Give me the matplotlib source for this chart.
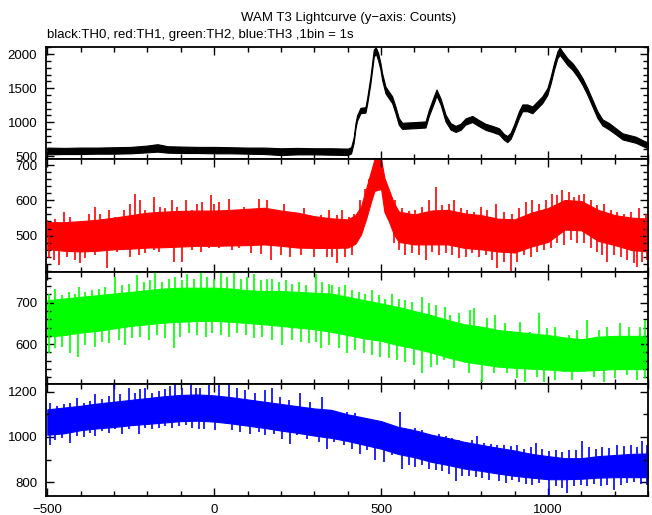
import numpy as np
import matplotlib
matplotlib.use("Agg")
import matplotlib.pyplot as plt
from matplotlib.ticker import MultipleLocator

plt.rcParams['font.family'] = ['Liberation Sans', 'DejaVu Sans']

# ---- values ----
# TH0 (black): band low/high edges
th0_t = [-500, -450, -400, -350, -300, -250, -200, -170, -140, -100, -50, 0, 50, 100, 150,
         200, 250, 300, 350, 400, 410, 418, 423, 428, 438, 453, 458, 468, 478, 484, 491,
         498, 503, 513, 523, 533, 543, 553, 563, 600, 633, 643, 658, 666, 678, 693, 708,
         723, 738, 753, 773, 793, 813, 833, 853, 868, 878, 888, 898, 913, 923, 938, 953,
         968, 983, 998, 1008, 1018, 1028, 1035, 1043, 1058, 1073, 1088, 1103, 1118, 1133,
         1148, 1163, 1183, 1203, 1223, 1243, 1263, 1283, 1300]
th0_lo = [525, 530, 530, 535, 535, 540, 555, 565, 550, 545, 545, 540, 540, 535, 530,
          515, 525, 525, 520, 515, 540, 700, 900, 1020, 1130, 1140, 1260, 1570, 1960, 2010, 1910,
          1770, 1620, 1425, 1350, 1280, 1130, 960, 900, 910, 920, 1090, 1280, 1390, 1260, 1010, 890,
          855, 885, 965, 1000, 940, 885, 855, 820, 740, 705, 755, 870, 1060, 1160, 1160, 1130,
          1205, 1280, 1400, 1570, 1770, 1940, 1990, 1940, 1840, 1770, 1670, 1550, 1400, 1230,
          1060, 950, 890, 820, 745, 720, 695, 650, 610]
th0_hi = [625, 620, 625, 625, 630, 635, 655, 675, 645, 640, 635, 635, 630, 625, 625,
          615, 620, 615, 615, 610, 630, 780, 980, 1100, 1210, 1220, 1350, 1670, 2070, 2100, 2020,
          1870, 1720, 1525, 1450, 1380, 1230, 1060, 990, 1000, 1010, 1180, 1380, 1480, 1350, 1110, 985,
          945, 975, 1055, 1090, 1030, 975, 945, 910, 825, 795, 845, 960, 1160, 1260, 1260, 1230,
          1305, 1380, 1500, 1670, 1870, 2040, 2100, 2040, 1940, 1870, 1770, 1650, 1500, 1330,
          1160, 1040, 985, 910, 835, 810, 785, 735, 695]

# TH1 (red): dense band + spike tips
th1_t = [-500, -450, -400, -350, -300, -250, -200, -150, -100, -50, 0, 50, 100, 150, 200,
         250, 300, 350, 400, 423, 440, 455, 470, 480, 500, 510, 523, 538, 553, 600, 650,
         700, 750, 800, 850, 900, 950, 1000, 1050, 1100, 1150, 1200, 1250, 1300]
th1_lo = [462, 457, 455, 457, 461, 463, 466, 467, 469, 471, 471, 472, 473, 475, 471,
          466, 465, 465, 466, 477, 504, 547, 597, 627, 632, 567, 541, 504, 482, 475, 475,
          475, 465, 461, 455, 452, 469, 482, 517, 515, 485, 473, 459, 455]
th1_hi = [538, 538, 541, 545, 551, 558, 565, 568, 570, 571, 571, 573, 576, 579, 571,
          565, 555, 549, 546, 558, 583, 633, 683, 716, 716, 663, 631, 593, 568, 560, 571,
          573, 563, 558, 548, 546, 565, 578, 601, 598, 573, 558, 551, 548]
th1_spike_t = [-501, -476, -451, -431, -406, -376, -356, -341, -316, -296, -271, -251, -236, -221,
               -206, -181, -161, -146, -126, -111, -86, -66, -51, -36, -11, -1, 14, 44, 69, 89,
               134, 159, 209, 269, 319, 343, 368, 383, 403, 418, 438, 453, 463, 513, 528, 543,
               563, 583, 603, 623, 643, 663, 683, 703, 718, 738, 758, 778, 798, 818, 843, 868,
               893, 913, 933, 953, 973, 993, 1013, 1028, 1043, 1063, 1078, 1093, 1108, 1128,
               1148, 1168, 1188, 1208, 1228, 1248, 1273, 1293,
               -496, -481, -466, -441, -416, -401, -386, -356, -321, -291, -251, -226, -206,
               -181, -166, -121, -96, -66, -41, -16, 14, 54, 74, 109, 139, 169, 199, 227, 259,
               299, 338, 353, 368, 393, 413, 538, 553, 573, 593, 613, 633, 653, 673, 693, 713,
               733, 753, 773, 793, 813, 833, 848, 868, 888, 908, 928, 948, 968, 988, 1008,
               1028, 1048, 1068, 1088, 1108, 1128, 1148, 1163, 1178, 1198, 1218, 1238, 1258,
               1268, 1283, 1298]
th1_spike_v = [544, 548, 567, 553, 539, 562, 581, 562, 572, 553, 572, 591, 619, 600,
               572, 609, 581, 577, 600, 581, 600, 572, 591, 595, 614, 591, 595, 604, 572, 581,
               605, 600, 590, 577, 558, 572, 558, 572, 553, 562, 600, 633, 660, 660, 620, 600,
               577, 570, 572, 581, 600, 638, 586, 591, 600, 577, 572, 567, 581, 572, 591, 567,
               562, 577, 595, 600, 591, 600, 619, 614, 628, 624, 609, 614, 619, 600,
               586, 591, 572, 567, 562, 567, 577, 562,
               435, 431, 417, 440, 431, 421, 435, 445, 407, 454, 440, 445, 450,
               459, 454, 426, 426, 459, 454, 464, 464, 459, 464, 452, 448, 431, 446, 440, 445,
               440, 440, 440, 421, 440, 445, 480, 459, 445, 450, 445, 431, 454, 445, 450, 445,
               436, 440, 450, 440, 445, 431, 407, 426, 398, 426, 445, 440, 454, 459, 464,
               478, 473, 487, 478, 478, 464, 454, 445, 426, 445, 440, 431, 421,
               412, 426, 431]

# TH2 (green)
th2_t = [-500, -450, -400, -350, -300, -250, -200, -150, -100, -50, 0, 50, 100, 150, 200,
         250, 300, 350, 400, 450, 500, 550, 600, 650, 700, 750, 800, 850, 900, 950, 1000,
         1050, 1100, 1150, 1200, 1250, 1300]
th2_lo = [618, 622, 628, 632, 638, 644, 648, 652, 654, 656, 656, 654, 651, 648, 644,
          640, 636, 630, 622, 614, 608, 598, 590, 580, 568, 558, 552, 546, 543, 541, 539,
          536, 536, 538, 540, 540, 540]
th2_hi = [706, 710, 714, 718, 722, 726, 730, 734, 736, 736, 736, 734, 730, 728, 728,
          726, 724, 722, 714, 706, 698, 690, 680, 670, 658, 648, 642, 634, 630, 626, 622,
          616, 612, 618, 620, 620, 620]
th2_spike_t = [-496, -476, -456, -436, -416, -406, -386, -366, -346, -326, -296, -276, -256,
               -231, -211, -191, -176, -156, -136, -116, -96, -81, -61, -41, -21, -1, 19, 39,
               59, 79, 99, 119, 139, 159, 174, 194, 214, 234, 254, 274, 304, 323, 343, 353,
               373, 393, 413, 433, 453, 473, 493, 513, 533, 553, 573, 593, 623, 643, 663,
               692, 707, 732, 767, 777, 817, 842, 872, 917, 947, 972, 997, 1022, 1062, 1087,
               1117, 1152, 1177, 1217, 1242, 1277, 1292,
               -496, -476, -456, -431, -409, -386, -356, -336, -316, -286, -266, -246, -221,
               -196, -171, -146, -121, -101, -76, -51, -26, -6, 19, 44, 69, 94, 119, 144,
               174, 204, 234, 259, 284, 304, 319, 343, 373, 398, 423, 448, 473, 498, 523,
               548, 573, 598, 623, 648, 668, 687, 717, 762, 802, 837, 877, 907, 932, 967,
               987, 1022, 1047, 1072, 1107, 1137, 1167, 1202, 1237, 1267, 1292]
th2_spike_v = [722, 734, 718, 726, 722, 738, 726, 730, 734, 738, 762, 742, 746,
               766, 750, 754, 774, 750, 758, 762, 754, 770, 758, 774, 762, 758, 774, 762,
               774, 758, 762, 770, 754, 758, 758, 750, 754, 746, 750, 742, 770, 750, 746, 742,
               738, 742, 730, 726, 722, 730, 718, 710, 722, 710, 706, 702, 714, 698, 694,
               690, 670, 674, 682, 686, 662, 670, 650, 654, 630, 674, 638, 642, 622, 634,
               658, 634, 642, 650, 642, 642, 658,
               578, 590, 594, 578, 570, 598, 594, 606, 602, 610, 598, 614, 618,
               610, 622, 614, 590, 618, 626, 622, 618, 626, 622, 618, 626, 622, 614, 618,
               610, 598, 610, 606, 602, 606, 590, 598, 590, 578, 586, 578, 574, 570, 566,
               562, 558, 550, 530, 546, 550, 562, 542, 530, 510, 530, 530, 518, 510, 522,
               510, 514, 534, 514, 534, 522, 510, 518, 526, 514, 518]

# TH3 (blue)
th3_t = [-500, -450, -400, -350, -300, -250, -200, -150, -100, -50, 0, 50, 100, 150, 200,
         250, 300, 350, 400, 450, 500, 550, 600, 650, 700, 750, 800, 850, 900, 950, 1000,
         1050, 1100, 1150, 1200, 1250, 1300]
th3_lo = [1010, 1016, 1030, 1038, 1044, 1052, 1058, 1064, 1070, 1072, 1068, 1060, 1050, 1040, 1028,
          1018, 1006, 996, 982, 965, 948, 925, 910, 890, 876, 860, 850, 838, 828, 820, 813,
          813, 815, 820, 822, 822, 822]
th3_hi = [1122, 1130, 1138, 1148, 1156, 1164, 1172, 1180, 1186, 1188, 1184, 1176, 1166, 1156, 1146,
          1136, 1126, 1120, 1100, 1085, 1070, 1045, 1030, 1010, 995, 978, 965, 952, 940, 925, 915,
          906, 906, 915, 920, 925, 927]
th3_spike_t = [-491, -471, -451, -431, -411, -391, -371, -356, -336, -316, -301, -281, -256,
               -236, -221, -206, -186, -166, -146, -131, -116, -96, -71, -56, -42, -17, 13, 43,
               68, 93, 123, 153, 173, 198, 223, 258, 288, 323, 343, 368, 398, 423, 448, 478,
               503, 533, 558, 578, 603, 623, 653, 673, 693, 713, 733, 753, 773, 788, 808, 828,
               848, 868, 888, 908, 928, 948, 963, 983, 1003, 1023, 1043, 1063, 1083, 1103,
               1123, 1143, 1163, 1183, 1208, 1228, 1248, 1268, 1283, 1298,
               -493, -476, -456, -431, -411, -391, -371, -356, -336, -316, -296, -276, -256,
               -226, -206, -186, -166, -146, -126, -106, -86, -66, -46, -32, 3, 28, 53, 78,
               108, 133, 153, 178, 203, 228, 248, 278, 313, 338, 358, 388, 413, 438, 458, 483,
               508, 533, 563, 583, 603, 623, 643, 663, 683, 703, 723, 743, 763, 783, 803, 823,
               853, 873, 893, 913, 933, 953, 973, 1003, 1023, 1043, 1058, 1078, 1098, 1118,
               1138, 1158, 1178, 1198, 1218, 1238, 1258, 1278, 1298]
th3_spike_v = [1151, 1136, 1144, 1151, 1173, 1151, 1158, 1188, 1166, 1181, 1233, 1188, 1218,
               1196, 1210, 1218, 1196, 1203, 1210, 1225, 1235, 1218, 1233, 1218, 1215, 1230, 1230, 1236,
               1215, 1207, 1193, 1207, 1215, 1178, 1163, 1193, 1156, 1178, 1118, 1111, 1111, 1104, 1074, 1067,
               1067, 1052, 1111, 1030, 1040, 1030, 1003, 1011, 1003, 996, 985, 978, 985, 1003, 974, 970,
               966, 963, 959, 963, 948, 955, 974, 948, 937, 941, 933, 941, 944, 981,
               955, 948, 955, 952, 966, 959, 963, 955, 981, 966,
               966, 985, 996, 974, 1003, 1000, 1018, 1003, 1025, 1018, 1033, 1011, 1033,
               1011, 1040, 1033, 1040, 1048, 1040, 1048, 1055, 1040, 1033, 1037, 1030, 1074, 1030, 1022,
               1015, 1022, 1007, 1015, 993, 970, 1007, 993, 978, 948, 978, 963, 948, 926, 941, 896,
               889, 919, 859, 874, 866, 874, 859, 852, 848, 837, 803, 826, 829, 822, 818, 811,
               803, 796, 811, 800, 792, 789, 796, 744, 781, 774, 751, 781, 789, 785,
               792, 781, 789, 766, 789, 796, 800, 792, 789]

series = [
    (th0_t, th0_lo, th0_hi, None, None, 'black'),
    (th1_t, th1_lo, th1_hi, th1_spike_t, th1_spike_v, '#ff0000'),
    (th2_t, th2_lo, th2_hi, th2_spike_t, th2_spike_v, '#00ff00'),
    (th3_t, th3_lo, th3_hi, th3_spike_t, th3_spike_v, '#0000ff'),
]
ylims = [(450, 2100), (398, 716), (505, 775), (740, 1236)]
yticks = [[500, 1000, 1500, 2000], [500, 600, 700], [600, 700], [800, 1000, 1200]]
yminor = [100, 20, 20, 100]

fig = plt.figure(figsize=(6.52, 5.15), dpi=100)
gs = fig.add_gridspec(4, 1, left=0.070, right=0.9946, top=0.908, bottom=0.0375, hspace=0)

for i, (t, lo, hi, st, sv, col) in enumerate(series):
    ax = fig.add_subplot(gs[i])
    t = np.array(t)
    lo = np.array(lo)
    hi = np.array(hi)
    ax.fill_between(t, lo, hi, color=col, lw=0.8, edgecolor=col)
    if st is not None:
        st = np.array(st)
        mid = np.interp(st, t, (lo + hi) / 2)
        ax.vlines(st, mid, sv, color=col, lw=1.2)
    ax.set_xlim(-505, 1301)
    ax.set_ylim(*ylims[i])
    ax.set_yticks(yticks[i])
    ax.yaxis.set_minor_locator(MultipleLocator(yminor[i]))
    ax.xaxis.set_major_locator(MultipleLocator(500))
    ax.xaxis.set_minor_locator(MultipleLocator(100))
    ax.tick_params(which='both', direction='in', top=True, right=True, color='black',
                   labelsize=9.5, pad=6)
    ax.tick_params(which='major', length=6, width=1)
    ax.tick_params(which='minor', length=3.5, width=1)
    for sp in ax.spines.values():
        sp.set_linewidth(1.3)
    if i < 3:
        ax.tick_params(labelbottom=False)

fig.text(0.534, 0.965, 'WAM T3 Lightcurve (y\u2212axis: Counts)', ha='center', va='center', fontsize=9.5)
fig.text(0.072, 0.932, 'black:TH0, red:TH1, green:TH2, blue:TH3 ,1bin = 1s', ha='left', va='center', fontsize=9.5)

fig.savefig('out.png', dpi=100)
